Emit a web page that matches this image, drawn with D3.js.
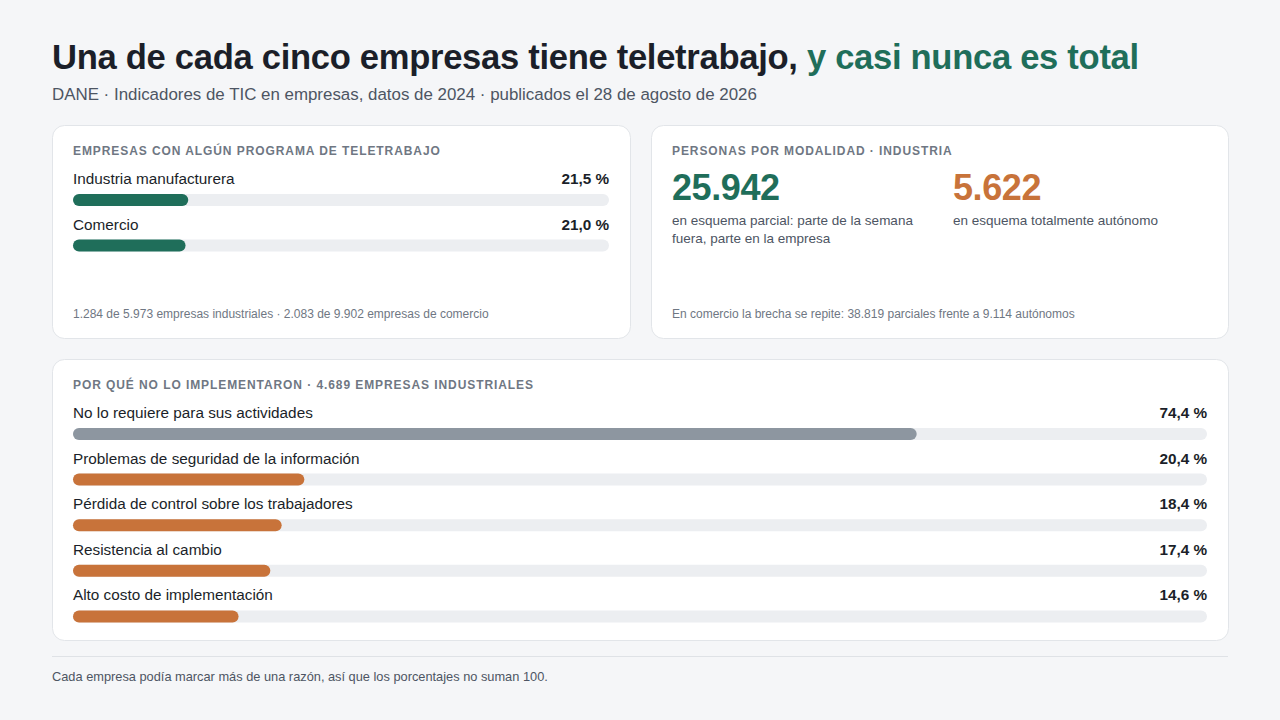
<!DOCTYPE html>
<html><head><meta charset="utf-8">
<script src="https://cdn.jsdelivr.net/npm/d3@7"></script>
<style>
html,body{margin:0;padding:0;background:#f5f6f8;}
svg{display:block;font-family:"Liberation Sans",Arial,Helvetica,sans-serif;}
</style></head>
<body>
<svg id="chart" width="1280" height="720"></svg>
<script>
const sectors = ["Industria manufacturera", "Comercio"];
const sectorShare = [21.5, 21.0];
const modalityValues = ["25.942", "5.622"];
const modalityLabels = [["en esquema parcial: parte de la semana", "fuera, parte en la empresa"], ["en esquema totalmente autónomo"]];
const reasons = ["No lo requiere para sus actividades", "Problemas de seguridad de la información", "Pérdida de control sobre los trabajadores", "Resistencia al cambio", "Alto costo de implementación"];
const reasonShare = [74.4, 20.4, 18.4, 17.4, 14.6];

const C = {bg:"#f5f6f8", ink:"#1b1f29", sub:"#4d5563", muted:"#6f7783", green:"#1f6e5a", orange:"#c8733a", grey:"#8d96a0", track:"#eceef1", border:"#e2e5e9"};
const fmt = v => d3.format(".1f")(v).replace(".", ",") + " %";

const svg = d3.select("#chart");
svg.append("rect").attr("width",1280).attr("height",720).attr("fill",C.bg);

// Title
const t = svg.append("text").attr("x",52).attr("y",69).attr("font-size",34.6).attr("font-weight",700).attr("fill",C.ink).attr("letter-spacing",-0.3);
t.append("tspan").text("Una de cada cinco empresas tiene teletrabajo, ");
t.append("tspan").attr("fill",C.green).text("y casi nunca es total");
svg.append("text").attr("x",52).attr("y",100).attr("font-size",16.9).attr("fill",C.sub)
  .text("DANE · Indicadores de TIC en empresas, datos de 2024 · publicados el 28 de agosto de 2026");

function card(x,y,w,h){
  svg.append("rect").attr("x",x+0.5).attr("y",y+0.5).attr("width",w).attr("height",h).attr("rx",12)
    .attr("fill","#fff").attr("stroke",C.border);
}
function label(x,y,txt){
  svg.append("text").attr("x",x).attr("y",y).attr("font-size",12).attr("font-weight",700)
    .attr("letter-spacing",0.92).attr("fill",C.muted).text(txt);
}
function bars(g, names, vals, x0, x1, y0, step, colorFn){
  const xs = d3.scaleLinear().domain([0,100]).range([0, x1-x0]);
  const rows = g.selectAll("g.row").data(names.map((n,i)=>({n,v:vals[i],i}))).join("g")
    .attr("transform",d=>`translate(${x0},${y0+d.i*step})`);
  rows.append("text").attr("y",0).attr("font-size",15.3).attr("fill",C.ink).text(d=>d.n);
  rows.append("text").attr("x",x1-x0).attr("y",0).attr("text-anchor","end").attr("font-size",15.3)
    .attr("font-weight",700).attr("fill",C.ink).text(d=>fmt(d.v));
  rows.append("rect").attr("y",10).attr("width",xs(100)).attr("height",12).attr("rx",6).attr("fill",C.track);
  rows.append("rect").attr("y",10).attr("width",d=>xs(d.v)).attr("height",12).attr("rx",6).attr("fill",d=>colorFn(d));
}

// Card 1
card(52,125,578,213);
label(73,155,"EMPRESAS CON ALGÚN PROGRAMA DE TELETRABAJO");
bars(svg.append("g"), sectors, sectorShare, 73, 609, 184, 45.5, ()=>C.green);
svg.append("text").attr("x",73).attr("y",318).attr("font-size",12).attr("fill",C.muted)
  .text("1.284 de 5.973 empresas industriales · 2.083 de 9.902 empresas de comercio");

// Card 2
card(651,125,577,213);
label(672,155,"PERSONAS POR MODALIDAD · INDUSTRIA");
const mx = [672, 953], mc = [C.green, C.orange];
modalityValues.forEach((v,i)=>{
  svg.append("text").attr("x",mx[i]).attr("y",200).attr("font-size",36).attr("font-weight",700)
    .attr("letter-spacing",-0.4).attr("fill",mc[i]).text(v);
  modalityLabels[i].forEach((l,j)=>{
    svg.append("text").attr("x",mx[i]).attr("y",225+j*18).attr("font-size",13.5).attr("fill",C.sub).text(l);
  });
});
svg.append("text").attr("x",672).attr("y",318).attr("font-size",12).attr("fill",C.muted)
  .text("En comercio la brecha se repite: 38.819 parciales frente a 9.114 autónomos");

// Card 3
card(52,359,1176,281);
label(73,389,"POR QUÉ NO LO IMPLEMENTARON · 4.689 EMPRESAS INDUSTRIALES");
bars(svg.append("g"), reasons, reasonShare, 73, 1207, 418, 45.6, d=>d.i===0?C.grey:C.orange);

// footer
svg.append("line").attr("x1",52).attr("x2",1228).attr("y1",656.5).attr("y2",656.5).attr("stroke","#dfe2e6");
svg.append("text").attr("x",52).attr("y",681).attr("font-size",12.8).attr("fill",C.sub)
  .text("Cada empresa podía marcar más de una razón, así que los porcentajes no suman 100.");
</script>
</body></html>
